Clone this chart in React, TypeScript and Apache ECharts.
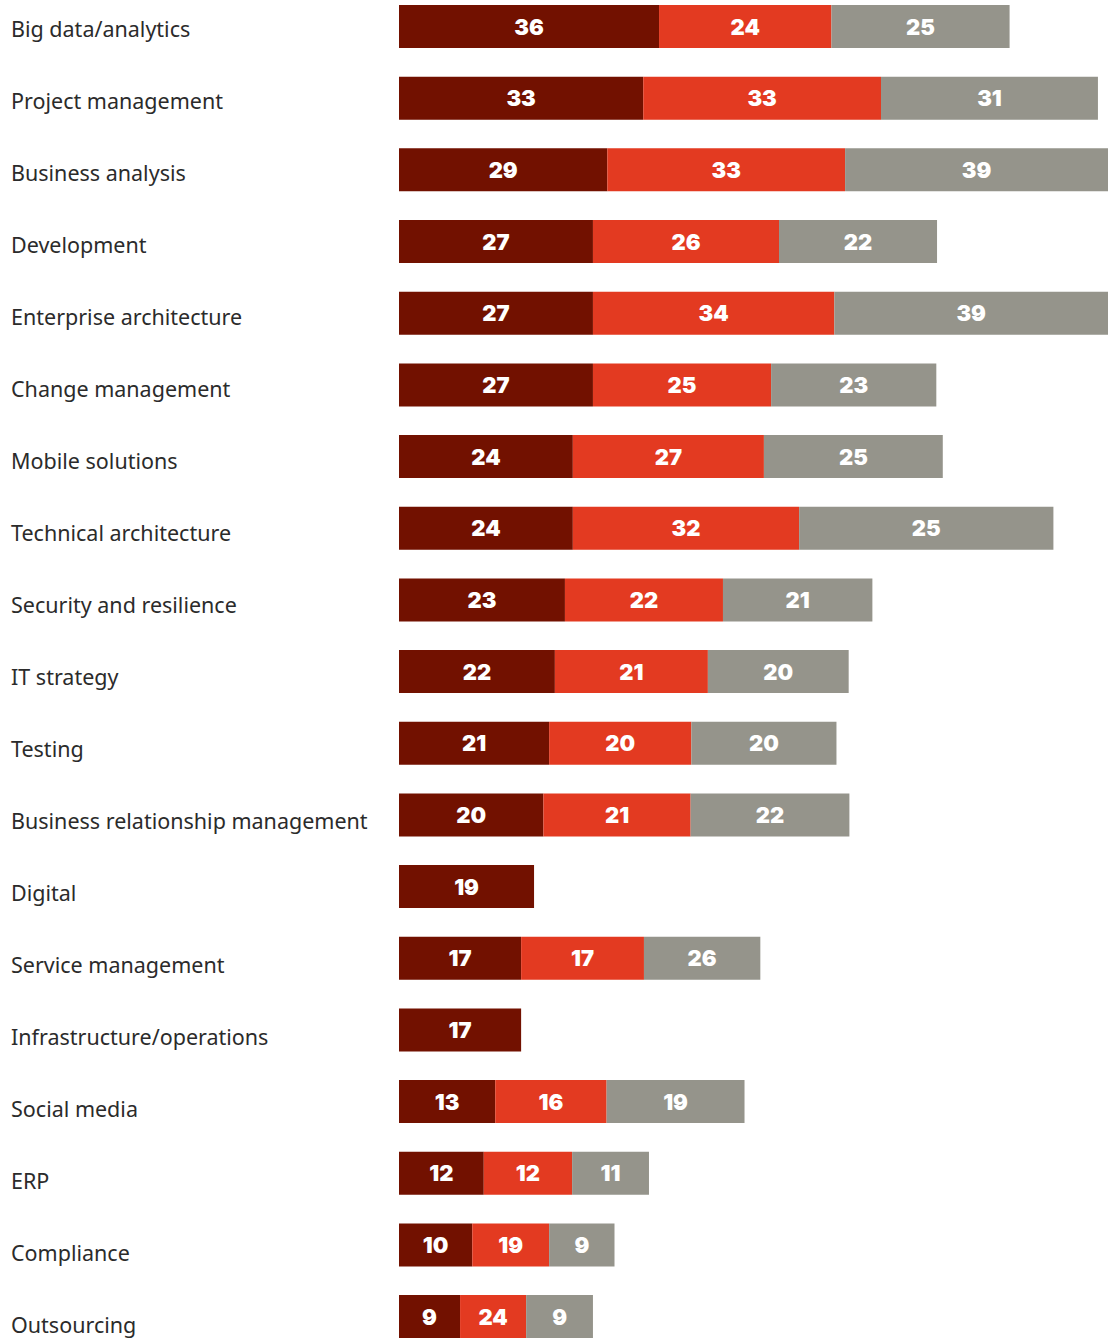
import React, { useEffect, useRef } from "react";
import * as echarts from "echarts";

const categories = [
  "Big data/analytics",
  "Project management",
  "Business analysis",
  "Development",
  "Enterprise architecture",
  "Change management",
  "Mobile solutions",
  "Technical architecture",
  "Security and resilience",
  "IT strategy",
  "Testing",
  "Business relationship management",
  "Digital",
  "Service management",
  "Infrastructure/operations",
  "Social media",
  "ERP",
  "Compliance",
  "Outsourcing",
];

// printed values
const labelsA = [36, 33, 29, 27, 27, 27, 24, 24, 23, 22, 21, 20, 19, 17, 17, 13, 12, 10, 9];
const labelsB = [24, 33, 33, 26, 34, 25, 27, 32, 22, 21, 20, 21, null, 17, null, 16, 12, 19, 24];
const labelsC = [25, 31, 39, 22, 39, 23, 25, 25, 21, 20, 20, 22, null, 26, null, 19, 11, 9, 9];

// segment lengths as drawn in the picture
const lengthsA = [36.2, 34.0, 29.0, 27.0, 27.0, 27.0, 24.2, 24.2, 23.1, 21.7, 20.9, 20.1, 18.8, 17.0, 17.0, 13.4, 11.8, 10.2, 8.5];
const lengthsB = [24.0, 33.1, 33.1, 25.9, 33.6, 24.8, 26.6, 31.5, 22.0, 21.3, 19.8, 20.5, null, 17.1, null, 15.5, 12.3, 10.7, 9.2];
const lengthsC = [24.8, 30.2, 39, 22.0, 39, 23.0, 24.9, 35.4, 20.8, 19.6, 20.2, 22.1, null, 16.2, null, 19.2, 10.7, 9.1, 9.3];

const COLORS = ["#721100", "#e33a21", "#95948b"];

const OFFSET = 20;

export default function App() {
  const ref = useRef<HTMLDivElement>(null);
  useEffect(() => {
    if (!ref.current) return;
    const chart = echarts.init(ref.current, null, { renderer: "svg" });
    const mkLabel = (labels: (number | null)[]) => ({
      show: true,
      position: "inside",
      color: "#ffffff",
      fontFamily: "Inter",
      fontWeight: 900,
      fontSize: 22,
      formatter: (p: any) => (labels[p.dataIndex] == null ? "" : String(labels[p.dataIndex])),
    });
    const series: any[] = [
      { name: "A", data: lengthsA, labels: labelsA, color: COLORS[0] },
      { name: "B", data: lengthsB, labels: labelsB, color: COLORS[1] },
      { name: "C", data: lengthsC, labels: labelsC, color: COLORS[2] },
    ].map((s) => ({
      type: "bar",
      name: s.name,
      stack: "total",
      xAxisIndex: 0,
      yAxisIndex: 0,
      data: s.data,
      barWidth: 43,
      itemStyle: { color: s.color },
      label: mkLabel(s.labels),
      emphasis: { disabled: true },
    }));
    series.push({
      type: "bar",
      xAxisIndex: 1,
      yAxisIndex: 1,
      data: categories.map(() => null),
      silent: true,
    });
    chart.setOption({
      animation: false,
      grid: [
        { left: 399, right: 0, top: OFFSET - 9.3, height: 1361.7, containLabel: false },
        { left: 399, right: 0, top: OFFSET - 8, height: 1368, containLabel: false },
      ],
      xAxis: [
        { type: "value", gridIndex: 0, min: 0, max: 98.7, show: false },
        { type: "value", gridIndex: 1, min: 0, max: 100, show: false },
      ],
      yAxis: [
        {
          type: "category",
          gridIndex: 0,
          data: categories,
          inverse: true,
          axisLine: { show: false },
          axisTick: { show: false },
          axisLabel: { show: false },
        },
        {
          type: "category",
          gridIndex: 1,
          data: categories,
          inverse: true,
          axisLine: { show: false },
          axisTick: { show: false },
          axisLabel: {
            show: true,
            align: "left",
            margin: 388,
            fontFamily: "Noto Sans",
            fontSize: 21.5,
            color: "#2b2b2b",
          },
        },
      ],
      series,
    });
    return () => chart.dispose();
  }, []);
  return (
    <div style={{ position: "absolute", left: 0, top: 0, width: 1108, height: 1338, overflow: "hidden", background: "#ffffff" }}>
      <div
        ref={ref}
        style={{ position: "absolute", left: 0, top: -OFFSET, width: 1108, height: 1400 }}
      />
    </div>
  );
}
